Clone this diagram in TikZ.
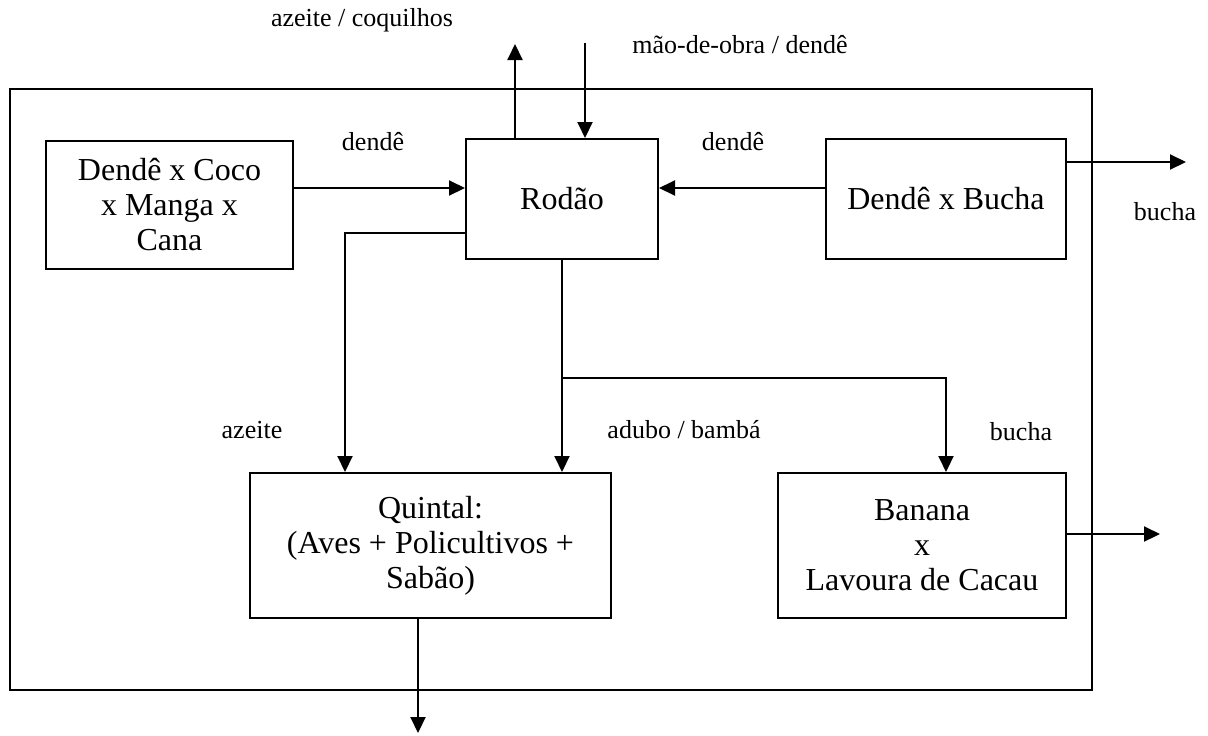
\documentclass[tikz,border=0pt]{standalone}
\usepackage{fontspec}
\setmainfont{Liberation Serif}
\usetikzlibrary{arrows.meta}
\begin{document}
\begin{tikzpicture}[x=0.5pt,y=-0.5pt,
  box/.style={draw, line width=1pt, align=center, inner sep=0pt,
    font=\fontsize{16}{17.5}\selectfont},
  lbl/.style={font=\fontsize{13}{15}\selectfont, inner sep=0pt},
  arr/.style={line width=1pt, -{Triangle[length=8pt,width=7.5pt]}},
  ln/.style={line width=1pt}]
\useasboundingbox (0,0) rectangle (1208,735);
\fill[white] (0,0) rectangle (1208,735);
% outer frame
\node[draw, line width=1pt, minimum width=541.2pt, minimum height=300.5pt, inner sep=0pt] (frame) at (550.8,389.5) {};
% boxes
\node[box, minimum width=123.5pt, minimum height=64pt] (b1) at (169.5,205) {Dendê x Coco\\x Manga x\\Cana};
\node[box, minimum width=96pt, minimum height=60pt] (rod) at (562,199) {Rodão};
\node[box, minimum width=120pt, minimum height=60pt] (buch) at (946,199) {Dendê x Bucha};
\node[box, minimum width=180.5pt, minimum height=72.5pt] (quin) at (430.5,545.5) {Quintal:\\(Aves + Policultivos +\\Sabão)};
\node[box, minimum width=144pt, minimum height=72.5pt] (ban) at (922,545.5) {Banana\\x\\Lavoura de Cacau};
% free ends
\coordinate (topout) at (515,44);
\coordinate (topin) at (585,43);
\coordinate (bout) at (1186,162);
\coordinate (banout) at (1160,534);
\coordinate (qout) at (418,733);
\coordinate (split) at (562,378);
% connectors
\draw[arr] (b1.east |- 0,188) -- (rod.west |- 0,188);
\draw[arr] (buch.west |- 0,188) -- (rod.east |- 0,188);
\draw[arr] (buch.east |- bout) -- (bout);
\draw[arr] (rod.north -| topout) -- (topout);
\draw[arr] (topin) -- (rod.north -| topin);
\draw[arr] (rod.west |- 0,233) -| (quin.north -| 345,0);
\draw[arr] (rod.south) -- (quin.north -| rod.south);
\draw[arr] (split) -| (ban.north -| 946,0);
\draw[arr] (ban.east |- banout) -- (banout);
\draw[arr] (quin.south -| qout) -- (qout);
% labels
\node[lbl] (l1) at (362,20) {azeite / coquilhos};
\node[lbl] (l2) at (740,45) {mão-de-obra / dendê};
\node[lbl] (l3) at (373,142) {dendê};
\node[lbl] (l4) at (733,142) {dendê};
\node[lbl] (l5) at (1165,212) {bucha};
\node[lbl] (l6) at (252,430) {azeite};
\node[lbl] (l7) at (684,430) {adubo / bambá};
\node[lbl] (l8) at (1021,432) {bucha};
\end{tikzpicture}
\end{document}
